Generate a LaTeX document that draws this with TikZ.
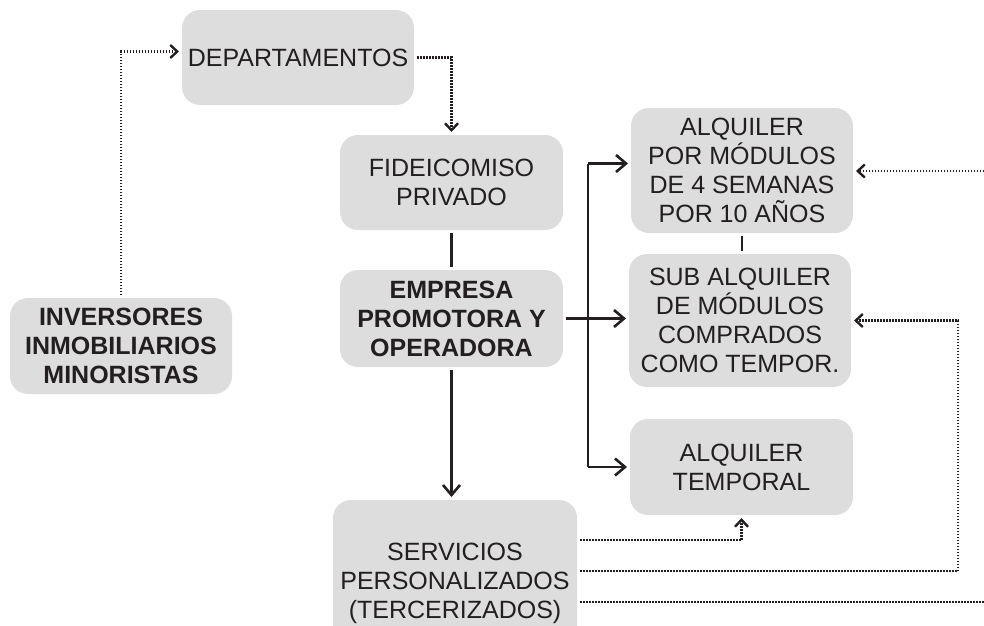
\documentclass[tikz,border=0pt]{standalone}
\usepackage{fontspec}
\setmainfont{Liberation Sans}
\usetikzlibrary{arrows.meta,calc}
\definecolor{boxgray}{HTML}{DDDDDD}
\definecolor{ink}{HTML}{231F20}
\tikzset{
  box/.style={fill=boxgray, rounded corners=18pt, inner sep=0pt, outer sep=3pt, align=center,
    text=ink, font=\fontsize{25}{29}\selectfont},
  boldbox/.style={box, font=\fontsize{25}{29}\selectfont\bfseries},
  solidline/.style={draw=ink, line width=2.6pt},
  solidarrow/.style={solidline, -{Straight Barb[length=10pt,width=17pt,line width=2.6pt]}},
  dotline/.style={draw=ink, line width=2.6pt, dash pattern=on 1.5pt off 1.5pt},
  dotarrow/.style={dotline, -{Straight Barb[length=7pt,width=13pt,line width=2.4pt]}}
}
\begin{document}
\begin{tikzpicture}[x=1pt,y=-1pt]
\clip (0,0) rectangle (984,625);
\node[box, minimum width=232pt, minimum height=95pt] (dep) at (298,57.5) {DEPARTAMENTOS};
\node[box, minimum width=223pt, minimum height=95pt] (fid) at (451.5,182.5) {FIDEICOMISO\\PRIVADO};
\node[boldbox, minimum width=223pt, minimum height=97pt] (emp) at (451.5,318.5) {EMPRESA\\PROMOTORA Y\\OPERADORA};
\node[boldbox, minimum width=222pt, minimum height=96pt] (inv) at (121,346) {INVERSORES\\INMOBILIARIOS\\MINORISTAS};
\node[box, minimum width=222pt, minimum height=125pt] (alq) at (742,170.5) {ALQUILER\\POR MÓDULOS\\DE 4 SEMANAS\\POR 10 AÑOS};
\node[box, minimum width=222pt, minimum height=133pt] (sub) at (740,320.5) {SUB ALQUILER\\DE MÓDULOS\\COMPRADOS\\COMO TEMPOR.};
\node[box, minimum width=223pt, minimum height=96pt] (temp) at (741.5,467) {ALQUILER\\TEMPORAL};
\node[box, minimum width=244pt, minimum height=166pt] (serv) at (455,583) {SERVICIOS\\PERSONALIZADOS\\(TERCERIZADOS)};

\coordinate (sp) at (588,0);
\coordinate (y540) at (0,540);
\coordinate (y571) at (0,571);
\coordinate (y602) at (0,602);
\coordinate (r2) at (958,571);
\coordinate (r3) at (984,602);
\coordinate (r4) at (984,171);

% dotted connectors
\draw[dotarrow] (inv.north) |- ([yshift=6pt]dep.west);
\draw[dotarrow] (dep.east) -| (fid.north);
\draw[dotarrow] (serv.east |- y540) -| (temp.south);
\draw[dotarrow] (serv.east |- y571) -- (r2) |- (sub.east);
\draw[dotline] (serv.east |- y602) -- (r3);
\draw[dotarrow] (r4) -- (alq.east |- r4);

% solid connectors
\draw[solidline] (fid.south) -- (emp.north);
\draw[solidarrow] (emp.south) -- (emp.south |- serv.north);
\draw[solidarrow] (emp.east) -- (emp.east -| sub.west);
\draw[solidline] ([yshift=7pt]sp |- alq.west) -- (sp |- temp.west);
\draw[solidarrow] ([yshift=7pt]sp |- alq.west) -- ([yshift=7pt]alq.west);
\draw[solidarrow] (sp |- temp.west) -- (temp.west);
\draw[solidline] (alq.south) -- (alq.south |- sub.north);
\end{tikzpicture}
\end{document}
